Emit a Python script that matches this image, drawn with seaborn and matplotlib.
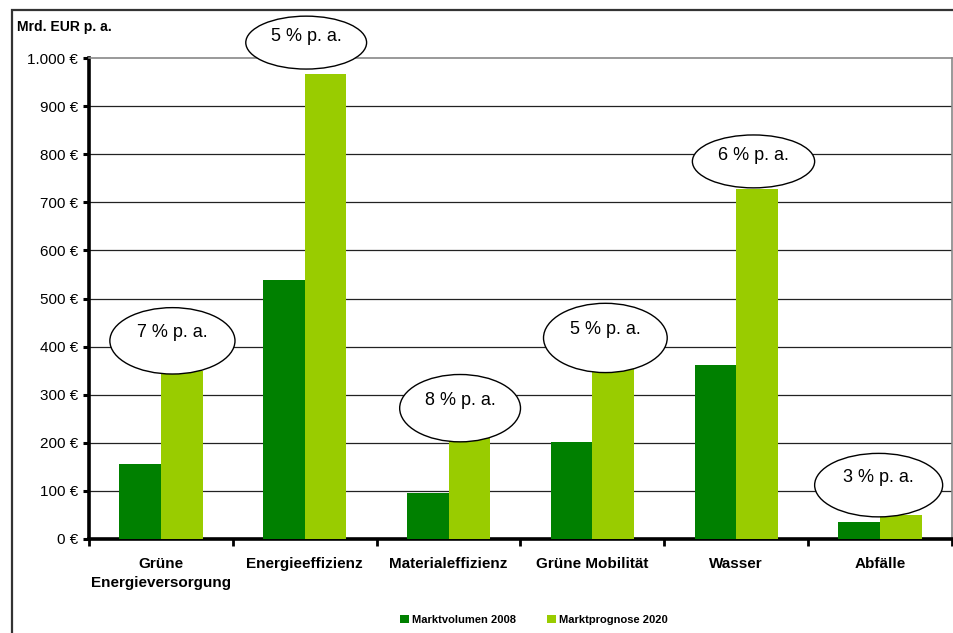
import matplotlib
matplotlib.use("Agg")
import matplotlib.pyplot as plt
from matplotlib.patches import Ellipse, Rectangle, Patch
from matplotlib.ticker import FuncFormatter, FixedLocator
import pandas as pd
import seaborn as sns

# --- Data ---
CATEGORIES = ["Grüne\nEnergieversorgung", "Energieeffizienz", "Materialeffizienz",
              "Grüne Mobilität", "Wasser", "Abfälle"]
VOLUME_2008 = [156, 538, 96, 202, 362, 35]
FORECAST_2020 = [350, 967, 237, 360, 728, 50]
GROWTH = ["7 % p. a.", "5 % p. a.", "8 % p. a.", "5 % p. a.", "6 % p. a.", "3 % p. a."]
SERIES = ["Marktvolumen 2008", "Marktprognose 2020"]
Y_TICKS = list(range(0, 1001, 100))

# --- Layout of the growth ellipses: (x offset from category, centre y, width, height) ---
ELLIPSE_LAYOUT = [
    (0.08, 412, 0.87, 138),
    (0.01, 1032, 0.84, 110),
    (0.08, 272, 0.84, 140),
    (0.09, 418, 0.86, 144),
    (0.12, 785, 0.85, 110),
    (-0.01, 112, 0.89, 132),
]
COLORS = ["#008000", "#99CC00"]

sns.set_style("white")
plt.rcParams["font.family"] = ["Liberation Sans", "DejaVu Sans"]
plt.rcParams.update({"text.color": "black", "xtick.color": "black",
                     "ytick.color": "black", "axes.labelcolor": "black"})

df = pd.DataFrame({
    "Kategorie": CATEGORIES * 2,
    "Wert": VOLUME_2008 + FORECAST_2020,
    "Serie": [SERIES[0]] * len(CATEGORIES) + [SERIES[1]] * len(CATEGORIES),
})

fig = plt.figure(figsize=(9.54, 6.33), dpi=100)
ax = fig.add_axes([89 / 954, 94 / 633, (952 - 89) / 954, (539 - 58) / 633])

sns.barplot(data=df, x="Kategorie", y="Wert", hue="Serie", order=CATEGORIES,
            hue_order=SERIES, palette=COLORS, width=0.58, saturation=1,
            errorbar=None, legend=False, ax=ax, zorder=3,
            linewidth=0, edgecolor="none")

ax.set_xlim(-0.5, len(CATEGORIES) - 0.5)
ax.set_ylim(0, 1000)
ax.set_yticks(Y_TICKS)
ax.yaxis.set_major_formatter(FuncFormatter(lambda v, _: f"{int(v):,} €".replace(",", ".")))
ax.set_xlabel("")
ax.set_ylabel("")

# gridlines
for v in Y_TICKS[1:-1]:
    ax.axhline(v, color="#222222", lw=0.9, zorder=1)

# spines
ax.spines["left"].set_linewidth(2.6)
ax.spines["left"].set_color("black")
ax.spines["bottom"].set_linewidth(2.6)
ax.spines["bottom"].set_color("black")
ax.spines["top"].set_color("#888888")
ax.spines["top"].set_linewidth(1.2)
ax.spines["right"].set_color("#888888")
ax.spines["right"].set_linewidth(1.2)

ax.tick_params(axis="y", direction="out", length=4, width=2.2, color="black",
               labelcolor="black", labelsize=11, pad=4, left=True)
ax.tick_params(axis="x", which="major", length=0, pad=13, labelsize=11, labelcolor="black")
ax.xaxis.set_minor_locator(FixedLocator([i - 0.5 for i in range(len(CATEGORIES) + 1)]))
ax.tick_params(axis="x", which="minor", direction="out", length=5, width=2, color="black",
               bottom=True)
for lbl in ax.get_xticklabels():
    lbl.set_fontweight("bold")
    lbl.set_multialignment("center")
    lbl.set_linespacing(1.45)

# growth ellipses
for i, (label, (dx, cy, w, h)) in enumerate(zip(GROWTH, ELLIPSE_LAYOUT)):
    e = Ellipse((i + dx, cy), w, h, facecolor="white", edgecolor="black",
                lw=1.0, zorder=5, clip_on=False)
    ax.add_patch(e)
    ax.text(i + dx, cy + h * 0.12, label, ha="center", va="center", fontsize=13,
            color="black", zorder=6, clip_on=False)

# unit label
fig.text(17 / 954, 1 - 27 / 633, "Mrd. EUR p. a.", fontsize=10, fontweight="bold",
         color="black", ha="left", va="center")

# outer frame
fig.patches.append(Rectangle((12 / 954, -0.1), 1.0, 1.1 - 10 / 633, transform=fig.transFigure,
                             fill=False, edgecolor="#333333", lw=1.6, figure=fig))

handles = [Patch(facecolor=c, edgecolor="none", label=s) for c, s in zip(COLORS, SERIES)]
leg = fig.legend(handles=handles, loc="center", bbox_to_anchor=(534 / 954, 1 - 620 / 633),
                 ncol=2, frameon=False, handlelength=0.75, handleheight=0.75,
                 handletextpad=0.3, columnspacing=2.8, prop={"weight": "bold", "size": 8})

fig.savefig("out.png", dpi=100)
